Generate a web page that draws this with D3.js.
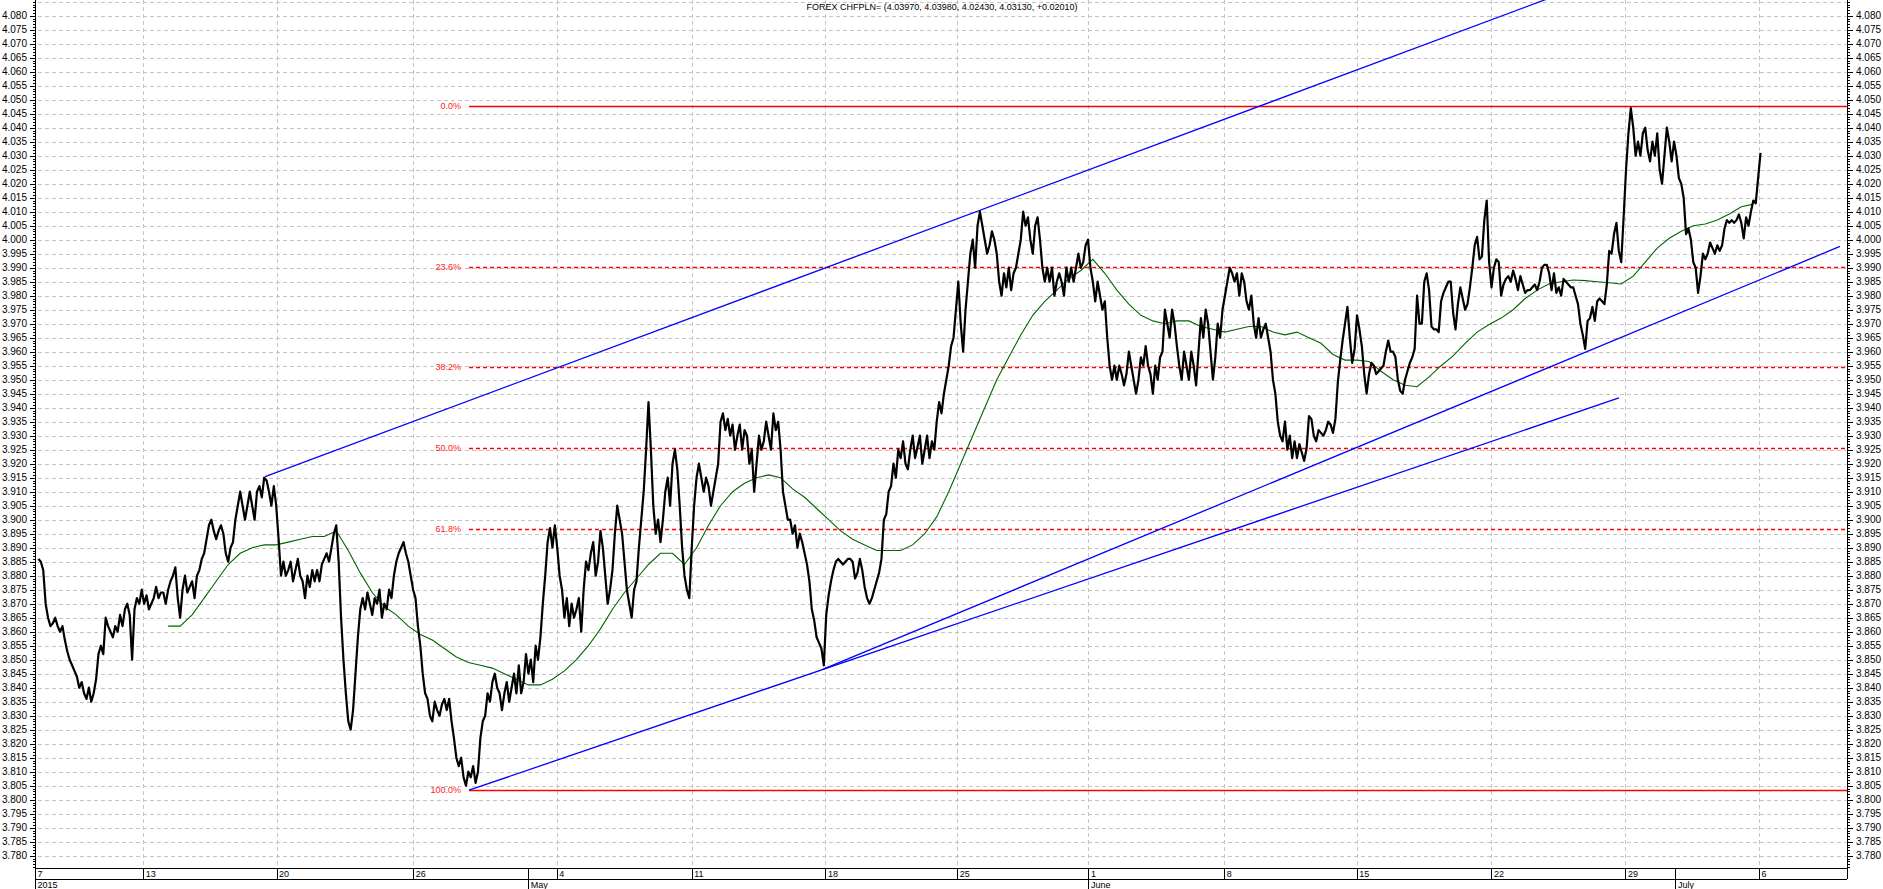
<!DOCTYPE html>
<html><head><meta charset="utf-8">
<script src="https://cdn.jsdelivr.net/npm/d3@7"></script>
<style>html,body{margin:0;padding:0;background:#fff;overflow:hidden}svg{display:block;font-family:"Liberation Sans",Arial,sans-serif}</style>
</head><body><svg id="c" width="1883" height="889"></svg>
<script>
const title = "FOREX CHFPLN= (4.03970, 4.03980, 4.02430, 4.03130, +0.02010)";
const weekLabels = ["7","13","20","26","4","11","18","25","1","8","15","22","29","6"];
const weekPos = [0,45.1,100.6,157.5,217.2,273.4,329.1,384.0,438.6,495.1,550.3,606.4,662.2,717.8];
const monthLabels = ["2015","May","June","July"];
const monthPos = [0,205.4,438.6,683.0];
const yMin = 3.780, yMax = 4.080, yStep = 0.005;
const priceStart = 1.43, priceStep = 1;
const price = [
3.886,3.885,3.882,3.870,3.865,3.862,3.863,3.865,3.862,3.860,
3.862,3.857,3.853,3.850,3.848,3.846,3.844,3.840,3.842,3.838,
3.836,3.840,3.835,3.838,3.843,3.852,3.855,3.852,3.865,3.862,
3.860,3.858,3.862,3.860,3.866,3.862,3.868,3.870,3.866,3.850,
3.868,3.872,3.870,3.875,3.870,3.873,3.868,3.870,3.872,3.876,
3.872,3.874,3.874,3.870,3.875,3.878,3.880,3.883,3.872,3.865,
3.875,3.880,3.874,3.876,3.878,3.872,3.880,3.882,3.886,3.888,
3.893,3.898,3.900,3.896,3.893,3.896,3.898,3.895,3.888,3.885,
3.890,3.892,3.900,3.905,3.910,3.905,3.900,3.905,3.910,3.905,
3.900,3.910,3.912,3.908,3.915,3.914,3.910,3.905,3.912,3.905,
3.893,3.880,3.885,3.880,3.882,3.885,3.878,3.882,3.886,3.880,
3.878,3.872,3.880,3.876,3.882,3.878,3.882,3.878,3.884,3.886,
3.888,3.885,3.890,3.895,3.898,3.885,3.865,3.850,3.838,3.828,
3.825,3.832,3.845,3.858,3.868,3.872,3.868,3.874,3.870,3.866,
3.872,3.870,3.875,3.865,3.870,3.868,3.875,3.872,3.880,3.885,
3.888,3.890,3.892,3.888,3.885,3.880,3.875,3.872,3.862,3.855,
3.845,3.838,3.836,3.830,3.828,3.835,3.832,3.830,3.834,3.836,
3.832,3.836,3.828,3.822,3.815,3.812,3.815,3.808,3.805,3.810,
3.808,3.812,3.806,3.810,3.822,3.828,3.830,3.838,3.835,3.842,
3.845,3.840,3.838,3.832,3.838,3.842,3.835,3.840,3.845,3.838,
3.848,3.838,3.842,3.852,3.845,3.850,3.842,3.855,3.850,3.858,
3.870,3.880,3.892,3.897,3.890,3.898,3.890,3.880,3.875,3.865,
3.872,3.862,3.870,3.865,3.868,3.872,3.860,3.875,3.885,3.882,
3.888,3.892,3.880,3.885,3.896,3.890,3.880,3.870,3.875,3.882,
3.895,3.905,3.900,3.895,3.885,3.875,3.870,3.865,3.875,3.878,
3.890,3.900,3.910,3.925,3.942,3.925,3.905,3.895,3.900,3.892,
3.900,3.910,3.915,3.905,3.920,3.925,3.918,3.905,3.890,3.880,
3.875,3.872,3.890,3.905,3.915,3.920,3.915,3.910,3.915,3.912,
3.905,3.910,3.915,3.920,3.935,3.938,3.932,3.936,3.930,3.934,
3.925,3.930,3.934,3.925,3.932,3.930,3.920,3.925,3.910,3.920,
3.930,3.925,3.928,3.935,3.930,3.925,3.938,3.932,3.935,3.925,
3.910,3.905,3.900,3.900,3.895,3.898,3.890,3.895,3.892,3.888,
3.884,3.878,3.868,3.864,3.858,3.856,3.854,3.848,3.866,3.873,
3.878,3.882,3.885,3.886,3.885,3.884,3.885,3.886,3.886,3.885,
3.879,3.881,3.886,3.882,3.876,3.872,3.870,3.872,3.875,3.878,
3.881,3.886,3.900,3.902,3.910,3.912,3.920,3.915,3.925,3.922,
3.928,3.920,3.918,3.925,3.930,3.922,3.926,3.930,3.920,3.925,
3.930,3.922,3.928,3.925,3.935,3.942,3.938,3.945,3.950,3.955,
3.962,3.965,3.975,3.985,3.970,3.960,3.975,3.985,3.995,4.000,
3.990,4.005,4.010,4.005,4.000,3.995,3.998,4.003,4.000,3.995,
3.985,3.980,3.988,3.983,3.990,3.982,3.988,3.990,3.995,4.000,
4.010,4.005,4.008,4.000,3.995,4.005,4.008,4.000,3.990,3.985,
3.990,3.985,3.990,3.980,3.985,3.988,3.985,3.980,3.990,3.985,
3.990,3.985,3.990,3.995,3.990,3.992,3.998,4.000,3.990,3.985,
3.978,3.985,3.980,3.975,3.978,3.965,3.955,3.950,3.955,3.950,
3.955,3.952,3.948,3.952,3.960,3.955,3.950,3.945,3.950,3.958,
3.955,3.962,3.955,3.952,3.945,3.955,3.950,3.958,3.960,3.975,
3.970,3.965,3.975,3.970,3.962,3.955,3.950,3.960,3.955,3.950,
3.960,3.955,3.948,3.960,3.972,3.965,3.975,3.970,3.960,3.950,
3.958,3.970,3.965,3.975,3.980,3.985,3.990,3.988,3.985,3.988,
3.980,3.988,3.985,3.978,3.975,3.980,3.970,3.965,3.972,3.965,
3.968,3.970,3.965,3.960,3.950,3.945,3.935,3.930,3.928,3.935,
3.925,3.930,3.922,3.928,3.922,3.927,3.924,3.921,3.9255,3.937,
3.936,3.930,3.928,3.932,3.931,3.930,3.932,3.935,3.934,3.931,
3.936,3.949,3.957,3.964,3.970,3.976,3.965,3.956,3.961,3.973,
3.968,3.962,3.952,3.945,3.952,3.956,3.955,3.952,3.953,3.954,
3.955,3.960,3.964,3.960,3.960,3.958,3.950,3.946,3.945,3.950,
3.953,3.956,3.958,3.961,3.980,3.970,3.970,3.985,3.988,3.982,
3.969,3.968,3.968,3.967,3.978,3.981,3.983,3.985,3.985,3.974,
3.968,3.977,3.983,3.979,3.975,3.977,3.983,3.990,3.998,4.001,
3.993,3.994,4.007,4.014,3.992,3.983,3.990,3.993,3.992,3.980,
3.984,3.986,3.987,3.985,3.989,3.986,3.982,3.987,3.984,3.981,
3.982,3.982,3.983,3.984,3.982,3.985,3.990,3.991,3.991,3.988,
3.982,3.988,3.981,3.983,3.980,3.986,3.985,3.984,3.983,3.983,
3.980,3.977,3.970,3.966,3.961,3.971,3.972,3.976,3.971,3.978,
3.979,3.978,3.977,3.984,3.996,3.995,4.002,4.006,3.996,3.992,
4.008,4.025,4.038,4.047,4.040,4.030,4.035,4.030,4.038,4.040,
4.032,4.028,4.035,4.030,4.038,4.025,4.020,4.030,4.040,4.035,
4.028,4.035,4.030,4.022,4.020,4.015,4.002,4.004,4.000,3.992,
3.990,3.981,3.987,3.995,3.993,3.995,3.999,3.997,3.995,3.998,
3.996,3.998,4.004,4.007,4.006,4.007,4.006,4.007,4.009,4.006,
4.0005,4.008,4.005,4.010,4.014,4.013,4.022,4.031
];
const maStart = 55.43, maStep = 5;
const ma = [
3.862,3.862,3.866,3.872,3.878,3.884,3.888,3.890,3.891,3.891,
3.892,3.893,3.894,3.894,3.896,3.889,3.881,3.874,3.869,3.866,
3.862,3.859,3.857,3.854,3.851,3.849,3.848,3.847,3.845,3.843,
3.841,3.841,3.843,3.846,3.850,3.855,3.861,3.868,3.874,3.879,
3.884,3.888,3.888,3.884,3.890,3.898,3.905,3.910,3.913,3.915,
3.916,3.915,3.911,3.908,3.904,3.900,3.896,3.893,3.891,3.889,
3.889,3.889,3.891,3.895,3.901,3.910,3.920,3.930,3.940,3.950,
3.958,3.966,3.973,3.978,3.982,3.986,3.989,3.993,3.988,3.982,
3.977,3.973,3.971,3.970,3.971,3.971,3.969,3.968,3.967,3.968,
3.969,3.969,3.967,3.966,3.967,
3.965,3.963,3.959,3.957,3.957,3.9565,3.953,3.950,3.948,3.9475,
3.951,3.955,3.9585,3.963,3.967,3.9697,3.972,3.975,3.979,3.982,
3.9843,3.985,3.9856,3.9854,3.985,3.9846,3.9842,3.987,3.992,3.997,
4.0005,4.003,4.005,4.0056,4.007,4.0092,4.0118,4.0127
];
const fibHigh = 4.0478, fibLow = 3.8034, fibStartX = 180.7;
const fibLevels = [0, 0.236, 0.382, 0.5, 0.618, 1];
const fibLabels = ["0.0%","23.6%","38.2%","50.0%","61.8%","100.0%"];
const channelUpper = [[95.8, 3.9154], [640, 4.0893]];
const channelLowerA = [[180.7, 3.8034], [659.5, 3.9435]];
const channelLowerB = [[328.2, 3.8466], [751.5, 3.9976]];

const W = 1883, H = 889;
const L = 35, R = 1848, T = 0, B = 868;
const svg = d3.select("#c");
const x = d3.scaleLinear().domain([0, 754.85]).range([L, R]);
const y = d3.scaleLinear().domain([yMin, yMax]).range([855.7, 15.7]);
const cr = v => Math.round(v) + 0.5;

const majors = d3.range(0, Math.round((yMax - yMin) / yStep) + 2).map(i => +(yMin + i * yStep).toFixed(3));
const minors = d3.range(0, 312).map(i => +(3.776 + i * 0.001).toFixed(3)).filter(v => y(v) >= 0 && y(v) <= B);

// grid
const grid = svg.append("g").attr("stroke", "#c4c4c4").attr("stroke-width", 1).attr("stroke-dasharray", "4,3").attr("shape-rendering", "crispEdges");
grid.selectAll("line.h").data(majors.filter(v => y(v) >= 0)).join("line")
  .attr("x1", L + 3).attr("x2", R - 2).attr("y1", d => cr(y(d))).attr("y2", d => cr(y(d)));
grid.selectAll("line.v").data(weekPos.slice(1)).join("line")
  .attr("x1", d => cr(x(d))).attr("x2", d => cr(x(d))).attr("y1", T).attr("y2", B);

// axes
function yAxis(gen, tx, size, labels) {
  const g = svg.append("g").attr("transform", `translate(${tx},0)`);
  g.call(gen(y).tickValues(labels ? majors.filter(v => v <= yMax + 1e-9) : minors).tickSize(size).tickPadding(labels ? 3 : 0)
    .tickFormat(labels ? d3.format(".3f") : ""));
  g.select(".domain").remove();
  g.selectAll("line").attr("stroke", "#000").attr("shape-rendering", "crispEdges");
  g.selectAll("text").attr("font-size", "10px").attr("fill", "#000").attr("font-family", "'Liberation Sans',Arial,sans-serif");
  return g;
}
yAxis(d3.axisLeft, L, 2, false);
yAxis(d3.axisLeft, L, 5, true);
yAxis(d3.axisRight, R, 2, false);
yAxis(d3.axisRight, R, 5, true);
svg.append("line").attr("x1", cr(L)).attr("x2", cr(L)).attr("y1", 0).attr("y2", H).attr("stroke", "#000").attr("shape-rendering", "crispEdges");
svg.append("line").attr("x1", cr(R) - 1).attr("x2", cr(R) - 1).attr("y1", 0).attr("y2", B + 11).attr("stroke", "#000").attr("shape-rendering", "crispEdges");

// date axis
const dg = svg.append("g").attr("shape-rendering", "crispEdges");
[B, B + 11].forEach(yy => dg.append("line").attr("x1", L).attr("x2", R - 1).attr("y1", yy + 0.5).attr("y2", yy + 0.5).attr("stroke", "#000"));
dg.selectAll("line.wk").data(weekPos).join("line").attr("stroke", "#000")
  .attr("x1", d => cr(x(d))).attr("x2", d => cr(x(d))).attr("y1", B).attr("y2", B + 11);
dg.selectAll("line.mo").data(monthPos).join("line").attr("stroke", "#000")
  .attr("x1", d => cr(x(d))).attr("x2", d => cr(x(d))).attr("y1", B).attr("y2", H);
svg.selectAll("text.wk").data(weekPos).join("text").attr("class", "wk")
  .attr("x", d => x(d) + 2.5).attr("y", B + 9).attr("font-size", "9px").attr("fill", "#000").text((d, i) => weekLabels[i]);
svg.selectAll("text.mo").data(monthPos).join("text").attr("class", "mo")
  .attr("x", d => x(d) + 2.5).attr("y", H - 1.5).attr("font-size", "9px").attr("fill", "#000").text((d, i) => monthLabels[i]);

// plot content with clip
svg.append("clipPath").attr("id", "clip").append("rect").attr("x", L + 1).attr("y", T).attr("width", R - L - 2).attr("height", B - T);
const plot = svg.append("g").attr("clip-path", "url(#clip)");

// fib levels
const fibVal = l => fibHigh - l * (fibHigh - fibLow);
plot.selectAll("line.fib").data(fibLevels).join("line")
  .attr("x1", x(fibStartX)).attr("x2", R).attr("y1", d => Math.round(y(fibVal(d))) + 0.5).attr("y2", d => Math.round(y(fibVal(d))) + 0.5)
  .attr("stroke", "#ff0000").attr("stroke-width", d => (d === 0 || d === 1) ? 1.6 : 1.3)
  .attr("stroke-dasharray", d => (d === 0 || d === 1) ? null : "4,3");
svg.selectAll("text.fib").data(fibLevels).join("text")
  .attr("x", x(fibStartX) - 8).attr("y", d => y(fibVal(d)) + 3).attr("text-anchor", "end")
  .attr("font-size", "9px").attr("fill", "#ff2020").text((d, i) => fibLabels[i]);

// channel lines
const seg = d3.line().x(d => x(d[0])).y(d => y(d[1]));
[channelUpper, channelLowerA, channelLowerB].forEach(c =>
  plot.append("path").attr("d", seg(c)).attr("fill", "none").attr("stroke", "#0000ff").attr("stroke-width", 1.3));

// moving average
const maLine = d3.line().x((d, i) => x(maStart + i * maStep)).y(d => y(d));
plot.append("path").attr("d", maLine(ma)).attr("fill", "none").attr("stroke", "#006400").attr("stroke-width", 1.1);

// price
const pLine = d3.line().x((d, i) => x(priceStart + i * priceStep)).y(d => y(d));
plot.append("path").attr("d", pLine(price)).attr("fill", "none").attr("stroke", "#000").attr("stroke-width", 2.2).attr("stroke-linejoin", "round");

// title
svg.append("text").attr("x", 942).attr("y", 9.5).attr("text-anchor", "middle").attr("font-size", "9px").attr("fill", "#000").text(title);
</script></body></html>
